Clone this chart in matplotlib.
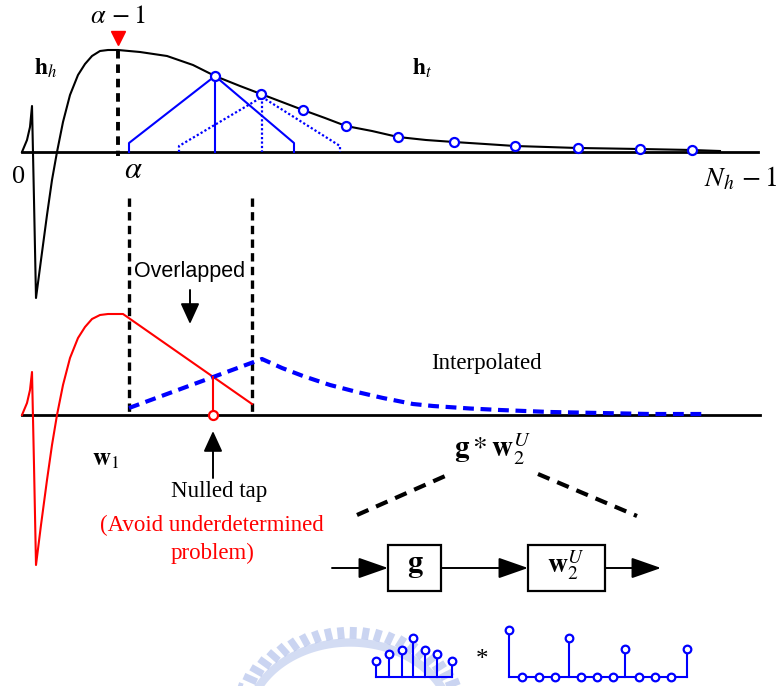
import matplotlib.pyplot as plt
import numpy as np

plt.rcParams["mathtext.fontset"] = "stix"

# values, in pixel coordinates (y grows downward)
h_x = [22, 27, 30, 32, 34, 36, 41, 47, 52, 57, 63, 70, 78, 85, 92, 100, 108, 118,
       140, 167, 193, 215, 240, 261, 282, 303, 325, 346, 372, 398, 426, 454, 485,
       515, 547, 578, 610, 640, 692, 720]
h_y = [152, 140, 127, 106, 200, 298, 260, 215, 180, 152, 122, 95, 75, 64, 56, 51, 50, 50,
       52, 56, 65, 76, 86, 94, 102, 110, 118, 126, 131, 137, 140, 142, 144,
       146, 147, 148, 148.5, 149, 150, 151]

tap_x = [215, 261, 303, 346, 398, 454, 515, 578, 640, 692]
tap_y = [76, 94, 110, 126, 137, 142, 146, 148, 149, 150]

w1_x = [22, 27, 30, 32, 34, 36, 41, 47, 52, 57, 63, 70, 78, 85, 92, 100, 108, 123, 252]
w1_y = [415, 403, 390, 372, 465, 565, 525, 480, 445, 415, 385, 358, 338, 327, 319, 315, 314, 314, 404]

interp_x = [129, 262, 282, 303, 330, 357, 383, 413, 433, 470, 500, 550, 600, 650, 707]
interp_y = [408, 359, 368, 376, 385, 392, 398, 404, 406, 408.5, 410, 412, 413, 414, 414]

g_x = [376, 389, 402, 413, 425, 437, 452]
g_y = [661, 654, 650, 638, 650, 654, 661]

w2_x = [509, 522, 539, 555, 569, 581, 597, 613, 625, 639, 655, 671, 687]
w2_y = [630, 677, 677, 677, 638, 677, 677, 677, 649, 677, 677, 677, 649]

BLUE = "#0000ff"
RED = "#ff0000"


def stem_circles(ax, xs, ys, base, color, ms):
    for x, y in zip(xs, ys):
        ax.plot([x, x], [base, y], color=color, lw=1.5)
    ax.plot(xs, ys, "o", ms=ms, mfc="white", mec=color, mew=1.6, zorder=5)


def arrow(ax, start, end, hl=0.8, hw=0.28, ms=23, lw=1.4):
    ax.annotate("", xy=end, xytext=start,
                arrowprops=dict(arrowstyle=f"-|>,head_length={hl},head_width={hw}",
                                color="black", lw=lw, mutation_scale=ms,
                                shrinkA=0, shrinkB=0))


def main():
    fig = plt.figure(figsize=(7.79, 6.86), dpi=100)
    ax = fig.add_axes([0, 0, 1, 1])
    ax.set_xlim(0, 779)
    ax.set_ylim(686, 0)
    ax.axis("off")

    # faint logo watermark behind the bottom stems
    wm = "#9fb2e6"
    ang = np.radians(np.arange(14, 168, 6.2))
    cx, cy, rx, ry = 350, 724, 122, 97
    for a in ang:
        ax.plot([cx + rx * np.cos(a), cx + 0.88 * rx * np.cos(a)],
                [cy - ry * np.sin(a), cy - 0.88 * ry * np.sin(a)],
                color=wm, lw=5, alpha=0.55, solid_capstyle="butt", zorder=0)
    t = np.radians(np.linspace(12, 168, 100))
    ax.plot(cx + 0.84 * rx * np.cos(t), cy - 0.84 * ry * np.sin(t),
            color=wm, lw=6, alpha=0.45, zorder=0)

    # ---- top panel: channel h ----
    ax.plot([22, 758], [152, 152], color="black", lw=2)
    ax.plot(h_x, h_y, color="black", lw=1.5)
    ax.plot([118, 118], [50, 156], color="black", lw=2.8, ls=(0, (2.2, 1.5)))
    ax.plot(118, 38, marker="v", ms=10, color=RED, mec=RED)

    # interpolation kernels
    ax.plot([129, 129, 215, 294, 294], [152, 143, 76, 143, 152], color=BLUE, lw=1.5)
    ax.plot([215, 215], [76, 152], color=BLUE, lw=1.5)
    ax.plot([179, 179, 262, 340, 340], [152, 146, 97, 146, 152], color=BLUE, lw=1.6,
            ls=(0, (1, 1)))
    ax.plot([262, 262], [97, 152], color=BLUE, lw=1.6, ls=(0, (1, 1)))
    ax.plot(tap_x, tap_y, "o", ms=6.5, mfc="white", mec=BLUE, mew=1.6, zorder=5)

    serif = "Liberation Serif"
    ax.text(118, 16, r"$\alpha\,-1$", fontsize=19, ha="center", va="center")
    ax.text(46, 68, r"$\mathbf{h}_{h}$", fontsize=17, ha="center", va="center")
    ax.text(422, 68, r"$\mathbf{h}_{t}$", fontsize=17, ha="center", va="center")
    ax.text(19, 177, "0", fontsize=19, family=serif, ha="center", va="center")
    ax.text(133, 170, r"$\alpha$", fontsize=22, ha="center", va="center")
    ax.text(777, 178, r"$N_h\,-1$", fontsize=20, ha="right", va="center")

    # ---- middle panel: w1 and interpolated part ----
    ax.plot([129, 129], [198, 415], color="black", lw=2.4, ls=(0, (2.5, 1.6)))
    ax.plot([252, 252], [198, 415], color="black", lw=2.4, ls=(0, (2.5, 1.6)))
    ax.text(190, 272, "Overlapped", fontsize=15.5, family="Liberation Sans",
            ha="center", va="center")
    arrow(ax, (190, 290), (190, 324), hl=0.7, hw=0.32, ms=18)

    ax.plot([22, 760], [415, 415], color="black", lw=2)
    ax.plot(w1_x, w1_y, color=RED, lw=1.5)
    ax.plot(interp_x, interp_y, color=BLUE, lw=3, ls=(0, (2.6, 1.6)))
    ax.plot([213, 213], [377, 415], color=RED, lw=1.5)
    ax.plot(213, 415, "o", ms=6.5, mfc="white", mec=RED, mew=1.6, zorder=5)

    ax.text(486, 363, "Interpolated", fontsize=16.5, family=serif, ha="center", va="center")
    ax.text(106, 459, r"$\mathbf{w}_{1}$", fontsize=18, ha="center", va="center")
    arrow(ax, (213, 478), (213, 431), hl=0.7, hw=0.32, ms=18)
    ax.text(219, 491, "Nulled tap", fontsize=16.5, family=serif, ha="center", va="center")
    ax.text(212, 525, "(Avoid underdetermined", fontsize=16.5, family=serif, color=RED,
            ha="center", va="center")
    ax.text(213, 553, "problem)", fontsize=16.5, family=serif, color=RED,
            ha="center", va="center")

    # ---- bottom: cascade g * w2^U ----
    ax.text(492, 449, r"$\mathbf{g}*\mathbf{w}_{2}^{U}$", fontsize=21,
            ha="center", va="center")
    ax.plot([357, 452], [515, 473], color="black", lw=3, ls=(0, (3, 2)))
    ax.plot([538, 637], [474, 516], color="black", lw=3, ls=(0, (3, 2)))

    ax.add_patch(plt.Rectangle((388, 545), 53, 46, fill=False, lw=1.6, ec="black"))
    ax.add_patch(plt.Rectangle((528, 545), 77, 46, fill=False, lw=1.6, ec="black"))
    arrow(ax, (332, 568), (388, 568))
    arrow(ax, (441, 568), (528, 568))
    arrow(ax, (605, 568), (661, 568))
    ax.text(415, 565, r"$\mathbf{g}$", fontsize=22, ha="center", va="center")
    ax.text(566, 566, r"$\mathbf{w}_{2}^{U}$", fontsize=20, ha="center", va="center")

    ax.plot([g_x[0], g_x[-1]], [677, 677], color=BLUE, lw=1.5)
    stem_circles(ax, g_x, g_y, 677, BLUE, 5.5)
    ax.text(482, 660, "*", fontsize=18, family=serif, ha="center", va="center")
    ax.plot([w2_x[0], w2_x[-1]], [677, 677], color=BLUE, lw=1.5)
    stem_circles(ax, w2_x, w2_y, 677, BLUE, 5.5)

    fig.savefig("out.png", dpi=100)


if __name__ == "__main__":
    main()
